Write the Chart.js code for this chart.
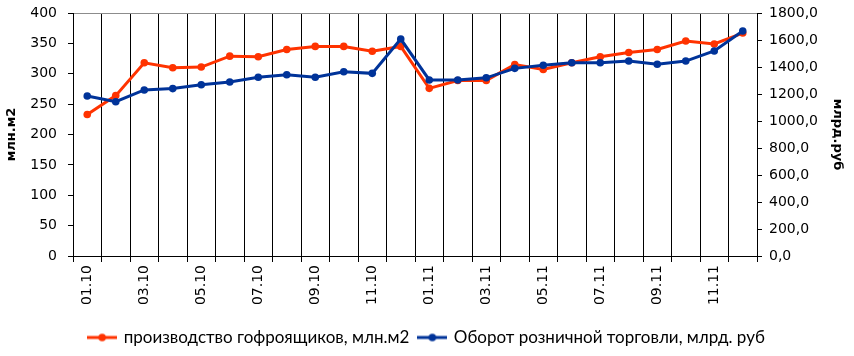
<!DOCTYPE html>
<html>
<head>
<meta charset="utf-8">
<script src="https://cdn.jsdelivr.net/npm/chart.js@4/dist/chart.umd.min.js"></script>
<style>
html,body{margin:0;padding:0;background:#fff;}
#c{display:block;}
</style>
</head>
<body>
<canvas id="c" width="854" height="356"></canvas>
<script>
const categories = ['01.10','02.10','03.10','04.10','05.10','06.10','07.10','08.10','09.10','10.10','11.10','12.10',
                    '01.11','02.11','03.11','04.11','05.11','06.11','07.11','08.11','09.11','10.11','11.11','12.11'];
const corrugatedProduction = [233, 264, 318, 310, 311, 329, 328, 340, 345, 345, 337, 345,
                              276, 289, 289, 315, 307, 318, 328, 335, 340, 354, 349, 367];
const retailTurnover = [1185, 1143, 1230, 1240, 1268, 1289, 1324, 1343, 1324, 1365, 1353, 1607,
                        1304, 1304, 1320, 1390, 1413, 1432, 1432, 1444, 1420, 1444, 1519, 1667];
const seriesNames = ['производство гофроящиков, млн.м2', 'Оборот розничной торговли, млрд. руб'];
const axisTitles = ['млн.м2', 'млрд.руб'];

const RED = '#FF3300';
const BLUE = '#003399';

function legendIcon(color) {
  const cv = document.createElement('canvas');
  cv.width = 30; cv.height = 10;
  const g = cv.getContext('2d');
  g.strokeStyle = color; g.lineWidth = 3;
  g.beginPath(); g.moveTo(0, 5); g.lineTo(30, 5); g.stroke();
  g.fillStyle = color;
  g.beginPath(); g.arc(15, 5, 3.8, 0, Math.PI * 2); g.fill();
  return cv;
}

const tickFont = {family: 'DejaVu Sans', size: 14};
const titleFont = {family: 'DejaVu Sans', size: 13, weight: 'bold'};

new Chart(document.getElementById('c'), {
  type: 'line',
  data: {
    labels: categories,
    datasets: [
      {
        label: seriesNames[0],
        data: corrugatedProduction,
        yAxisID: 'y',
        borderColor: RED,
        backgroundColor: RED,
        pointBackgroundColor: RED,
        pointBorderWidth: 0,
        pointRadius: 3.8,
        pointStyle: 'circle',
        borderWidth: 3,
        tension: 0,
        order: 1
      },
      {
        label: seriesNames[1],
        data: retailTurnover,
        yAxisID: 'y2',
        borderColor: BLUE,
        backgroundColor: BLUE,
        pointBackgroundColor: BLUE,
        pointBorderWidth: 0,
        pointRadius: 3.8,
        pointStyle: 'circle',
        borderWidth: 3,
        tension: 0,
        order: 0
      }
    ]
  },
  options: {
    responsive: false,
    animation: false,
    devicePixelRatio: 1,
    layout: {padding: {top: 13, left: 0, right: 0, bottom: 0}},
    plugins: {
      tooltip: {enabled: false},
      legend: {
        position: 'bottom',
        labels: {
          usePointStyle: true,
          pointStyleWidth: 26,
          padding: 10,
          color: '#000',
          font: {family: 'Lato', size: 17},
          generateLabels(chart) {
            return chart.data.datasets.map((ds, i) => ({
              text: ds.label,
              pointStyle: legendIcon(ds.borderColor),
              fillStyle: ds.borderColor,
              strokeStyle: ds.borderColor,
              lineWidth: 0,
              hidden: false,
              datasetIndex: i,
              fontColor: '#000'
            }));
          }
        }
      }
    },
    scales: {
      x: {
        type: 'category',
        offset: true,
        afterFit(scale) { scale.height = 63; },
        grid: {
          offset: true,
          color: '#000',
          lineWidth: 1,
          tickLength: 6,
          tickColor: '#000',
          drawOnChartArea: true
        },
        border: {color: '#000', width: 1},
        ticks: {
          autoSkip: false,
          maxRotation: 90,
          minRotation: 90,
          padding: 3,
          color: '#000',
          font: tickFont,
          callback(value, index) { return index % 2 === 0 ? categories[index] : ''; }
        }
      },
      y: {
        position: 'left',
        min: 0,
        max: 400,
        afterFit(scale) { scale.width = 73; scale.paddingTop = 0; scale.paddingBottom = 0; },
        ticks: {stepSize: 50, padding: 11, color: '#000', font: tickFont},
        grid: {
          tickLength: 5,
          tickColor: '#000',
          color: (ctx) => (ctx.tick && ctx.tick.value === 400) ? '#8c8c8c' : 'rgba(0,0,0,0)',
          lineWidth: 1
        },
        border: {color: '#000', width: 1},
        title: {display: true, text: axisTitles[0], color: '#000', font: titleFont, padding: {top: 4, bottom: 0}}
      },
      y2: {
        position: 'right',
        min: 0,
        max: 1800,
        afterFit(scale) { scale.width = 97; scale.paddingTop = 0; scale.paddingBottom = 0; },
        ticks: {
          stepSize: 200,
          padding: 7,
          color: '#000',
          font: tickFont,
          callback: (v) => v.toFixed(1).replace('.', ',')
        },
        grid: {drawOnChartArea: false, tickLength: 5, tickColor: '#000'},
        border: {color: '#000', width: 1},
        title: {display: true, text: axisTitles[1], color: '#000', font: titleFont, padding: {top: 9, bottom: 0}}
      }
    }
  }
});
</script>
</body>
</html>
